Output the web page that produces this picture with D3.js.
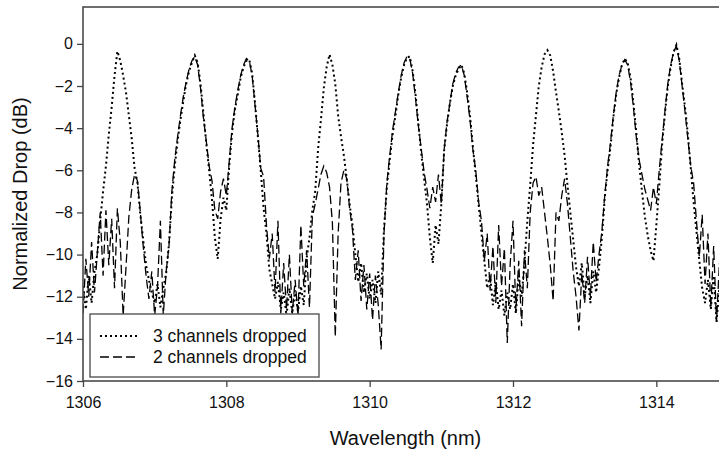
<!DOCTYPE html>
<html>
<head>
<meta charset="utf-8">
<script src="https://cdn.jsdelivr.net/npm/d3@7"></script>
<style>
  html, body { margin: 0; padding: 0; background: #fff; }
  svg { display: block; font-family: "Liberation Sans", Arial, Helvetica, sans-serif; }
  .axis text { font-size: 16px; fill: #111; }
  .axis line { stroke: #444; stroke-width: 1.3; }
  .axis-label { font-size: 20px; fill: #111; }
  .legend text { font-size: 17.5px; fill: #111; }
</style>
</head>
<body>
<div id="chart"></div>
<script>
// Wavelength sampling grid (nm)
const WL_START = 1306;
const WL_STEP = 0.04;

// Normalized drop (dB), 3 channels dropped
const drop3ch = [
  -11.5, -12.6, -11.0, -12.3, -10.8, -10.0, -8.4, -7.0, -5.8, -4.3,
  -3.0, -1.5, -0.35, -0.8, -1.5, -2.3, -3.4, -4.5, -5.9, -6.6,
  -8.1, -9.3, -10.5, -11.2, -11.8, -12.3, -11.4, -12.5, -11.6, -10.9,
  -9.5, -7.3, -5.8, -4.6, -3.6, -2.7, -1.9, -1.3, -0.9, -0.55,
  -0.9, -1.9, -3.3, -4.7, -6.0, -7.4, -9.2, -10.2, -8.3, -7.3,
  -7.9, -5.8, -4.2, -3.1, -2.4, -1.6, -1.1, -0.8, -0.75, -1.4,
  -2.8, -4.4, -6.0, -7.8, -9.0, -10.7, -11.4, -12.1, -11.3, -12.6,
  -11.8, -12.9, -11.6, -12.8, -11.7, -12.7, -11.5, -12.4, -10.2, -9.2,
  -7.9, -7.0, -5.0, -3.6, -2.1, -1.1, -0.5, -1.0, -1.9, -3.4,
  -4.4, -5.3, -6.4, -7.6, -8.6, -10.0, -11.3, -10.4, -11.8, -10.9,
  -12.1, -11.2, -12.3, -10.8, -11.9, -8.8, -6.8, -5.5, -4.3, -3.4,
  -2.4, -1.6, -1.0, -0.65, -0.6, -1.3, -2.4, -3.8, -5.2, -6.4,
  -7.6, -9.2, -10.4, -8.6, -9.5, -7.6, -5.0, -3.8, -2.8, -2.0,
  -1.5, -1.2, -1.0, -1.4, -2.3, -3.4, -4.9, -6.2, -7.6, -9.0,
  -10.3, -11.6, -11.0, -12.4, -11.3, -12.6, -11.7, -12.9, -11.8, -12.6,
  -11.4, -12.8, -11.0, -12.0, -10.4, -8.4, -6.7, -4.8, -3.4, -2.0,
  -1.1, -0.5, -0.3, -0.55, -1.3, -2.3, -3.2, -4.2, -5.3, -6.7,
  -8.0, -9.3, -10.6, -11.5, -10.4, -12.0, -11.0, -12.3, -10.8, -11.8,
  -10.6, -9.2, -7.3, -6.0, -4.9, -3.5, -2.4, -1.6, -1.0, -0.7,
  -0.9, -1.6, -2.8, -4.2, -5.7, -7.0, -8.2, -9.1, -9.8, -10.3,
  -8.6, -6.8, -4.8, -3.3, -2.0, -1.1, -0.4, -0.05, -0.7, -1.9,
  -3.0, -4.3, -5.9, -7.5, -8.9, -10.3, -11.6, -12.3, -11.2, -12.6,
  -11.0, -13.2, -11.5, -12.6, -11.2, -12.4
];

// Normalized drop (dB), 2 channels dropped
const drop2ch = [
  -12.8, -10.2, -12.0, -9.4, -11.8, -9.9, -8.0, -11.0, -7.9, -10.5,
  -8.3, -11.6, -7.8, -9.4, -12.9, -10.6, -8.2, -6.9, -6.2, -6.5,
  -8.0, -9.6, -11.0, -12.1, -10.8, -12.9, -11.5, -8.4, -12.9, -10.8,
  -9.6, -7.0, -5.5, -4.4, -3.4, -2.5, -1.8, -1.2, -0.8, -0.6,
  -1.0, -2.1, -3.5, -4.6, -5.8, -6.5, -7.9, -8.3, -7.0, -6.4,
  -7.2, -5.6, -4.0, -3.0, -2.2, -1.5, -1.0, -0.7, -0.8, -1.5,
  -2.9, -4.3, -5.9, -6.3, -8.6, -10.2, -9.0, -11.8, -8.4, -12.8,
  -10.4, -12.6, -10.0, -12.8, -11.2, -12.9, -8.6, -11.5, -9.8, -12.5,
  -8.2, -7.6, -6.9, -6.2, -5.8, -6.1, -6.8, -8.5, -13.9, -9.0,
  -6.6, -6.0, -6.4, -7.8, -8.8, -11.2, -9.8, -12.2, -10.5, -12.6,
  -10.9, -13.1, -11.0, -12.4, -14.5, -9.0, -6.6, -5.3, -4.1, -3.2,
  -2.3, -1.5, -0.9, -0.6, -0.7, -1.4, -2.6, -3.9, -5.0, -6.1,
  -6.9, -7.8, -6.8, -7.5, -6.2, -7.6, -5.0, -3.7, -2.8, -1.9,
  -1.4, -1.1, -1.0, -1.5, -2.5, -3.6, -5.0, -6.0, -7.5, -8.4,
  -10.3, -9.0, -11.7, -9.6, -12.3, -8.6, -11.5, -9.7, -14.2, -10.5,
  -8.4, -12.7, -10.3, -13.4, -9.8, -11.6, -8.0, -6.6, -6.3, -7.2,
  -6.8, -8.0, -9.2, -10.5, -12.2, -8.0, -8.4, -7.2, -6.4, -7.6,
  -9.2, -10.8, -12.0, -13.6, -10.9, -12.3, -10.1, -12.0, -9.4, -11.3,
  -10.0, -8.9, -7.2, -5.8, -4.7, -3.4, -2.3, -1.5, -1.0, -0.75,
  -1.0, -1.8, -3.0, -4.4, -5.5, -6.2, -6.9, -7.4, -7.9, -6.8,
  -7.6, -6.0, -4.6, -3.2, -1.9, -1.0, -0.4, -0.1, -0.8, -2.0,
  -3.2, -4.5, -5.8, -6.6, -8.4, -10.1, -8.1, -11.4, -9.0, -12.5,
  -9.6, -13.2, -10.4, -12.0, -9.8, -11.7
];

const X_TICKS = [1306, 1308, 1310, 1312, 1314];
const Y_TICKS = [0, -2, -4, -6, -8, -10, -12, -14, -16];
const SERIES_NAMES = ['3 channels dropped', '2 channels dropped'];

const WIDTH = 719, HEIGHT = 452;
const PLOT = { left: 83, right: 728, top: 7, bottom: 381 };

const DOTTED = { width: 2, dash: '2,3' };
const DASHED = { width: 1.3, dash: '9,4' };

const svg = d3.select('#chart').append('svg')
  .attr('width', WIDTH)
  .attr('height', HEIGHT);

const x = d3.scaleLinear().domain([1306, 1315]).range([PLOT.left, PLOT.right]);
const y = d3.scaleLinear().domain([-16, 1.75]).range([PLOT.bottom, PLOT.top]);

svg.append('clipPath').attr('id', 'plot-clip')
  .append('rect')
    .attr('x', PLOT.left).attr('y', PLOT.top)
    .attr('width', PLOT.right - PLOT.left).attr('height', PLOT.bottom - PLOT.top);

// ─── Traces ───────────────────────────────────────────────
const line = d3.line()
  .x((d, i) => x(WL_START + i * WL_STEP))
  .y(d => y(d));

const traces = svg.append('g').attr('clip-path', 'url(#plot-clip)');

traces.append('path')
  .datum(drop2ch)
  .attr('d', line)
  .attr('fill', 'none')
  .attr('stroke', '#000')
  .attr('stroke-width', DASHED.width)
  .attr('stroke-dasharray', DASHED.dash);

traces.append('path')
  .datum(drop3ch)
  .attr('d', line)
  .attr('fill', 'none')
  .attr('stroke', '#000')
  .attr('stroke-width', DOTTED.width)
  .attr('stroke-dasharray', DOTTED.dash);

// ─── Frame & axes ─────────────────────────────────────────
svg.append('rect')
  .attr('x', PLOT.left).attr('y', PLOT.top)
  .attr('width', PLOT.right - PLOT.left).attr('height', PLOT.bottom - PLOT.top)
  .attr('fill', 'none')
  .attr('stroke', '#4a4a4a')
  .attr('stroke-width', 1.6);

svg.append('g').attr('class', 'axis axis--x')
  .attr('transform', `translate(0,${PLOT.bottom})`)
  .call(d3.axisBottom(x).tickValues(X_TICKS).tickSize(6).tickPadding(10).tickFormat(d3.format('d')))
  .call(ax => ax.select('.domain').remove());

svg.append('g').attr('class', 'axis axis--y')
  .attr('transform', `translate(${PLOT.left},0)`)
  .call(d3.axisLeft(y).tickValues(Y_TICKS).tickSize(6).tickPadding(4))
  .call(ax => ax.select('.domain').remove());

svg.selectAll('.axis text').attr('font-family', null);

svg.append('text').attr('class', 'axis-label')
  .attr('x', (PLOT.left + PLOT.right) / 2).attr('y', 445)
  .attr('text-anchor', 'middle')
  .text('Wavelength (nm)');

svg.append('text').attr('class', 'axis-label')
  .attr('transform', 'rotate(-90)')
  .attr('x', -(PLOT.top + PLOT.bottom) / 2).attr('y', 27)
  .attr('text-anchor', 'middle')
  .text('Normalized Drop (dB)');

// ─── Legend ───────────────────────────────────────────────
const legend = svg.append('g').attr('class', 'legend');
legend.append('rect')
  .attr('x', 90).attr('y', 314).attr('width', 229).attr('height', 63)
  .attr('fill', '#fff')
  .attr('stroke', '#4a4a4a')
  .attr('stroke-width', 1.3);

[DOTTED, DASHED].forEach((style, i) => {
  const cy = 336 + i * 21;
  legend.append('line')
    .attr('x1', 100).attr('x2', 139).attr('y1', cy).attr('y2', cy)
    .attr('stroke', '#000')
    .attr('stroke-width', style.width)
    .attr('stroke-dasharray', style.dash);
  legend.append('text')
    .attr('x', 153).attr('y', cy).attr('dy', '0.35em')
    .text(SERIES_NAMES[i]);
});
</script>
</body>
</html>
